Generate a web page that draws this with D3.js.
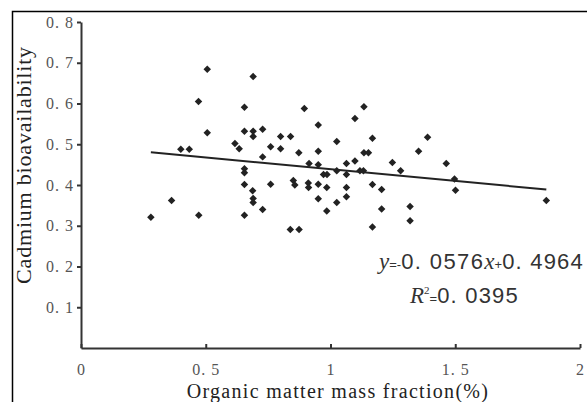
<!DOCTYPE html>
<html>
<head>
<meta charset="utf-8">
<script src="https://cdn.jsdelivr.net/npm/d3@7"></script>
<style>
  body { margin: 0; background: #fff; }
  svg { display: block; }
  .axis path, .axis line { stroke: #333; stroke-width: 2; }
</style>
</head>
<body>
<div id="chart"></div>
<script>
// organic matter mass fraction (%) and cadmium bioavailability
var organic = [0.28,0.363,0.40,0.434,0.471,0.472,0.506,0.506,0.617,0.634,
  0.655,0.655,0.655,0.655,0.655,0.655,0.69,0.69,0.69,0.688,
  0.69,0.69,0.728,0.728,0.728,0.76,0.76,0.80,0.80,0.84,
  0.839,0.873,0.874,0.851,0.857,0.895,0.914,0.911,0.912,0.951,
  0.951,0.951,0.951,0.951,0.972,0.986,0.985,0.985,1.025,1.025,
  1.025,1.064,1.064,1.064,1.064,1.098,1.098,1.134,1.118,1.132,
  1.134,1.152,1.168,1.168,1.168,1.205,1.205,1.248,1.281,1.319,
  1.319,1.353,1.389,1.464,1.497,1.501,1.865];
var cadmium = [0.321,0.362,0.488,0.488,0.605,0.326,0.684,0.528,0.502,0.489,
  0.591,0.532,0.44,0.43,0.401,0.326,0.666,0.532,0.519,0.386,
  0.367,0.357,0.537,0.469,0.34,0.494,0.402,0.519,0.489,0.519,
  0.291,0.479,0.291,0.411,0.40,0.588,0.453,0.405,0.394,0.547,
  0.483,0.45,0.402,0.366,0.426,0.426,0.394,0.336,0.507,0.435,
  0.357,0.453,0.426,0.394,0.371,0.563,0.459,0.592,0.435,0.435,
  0.479,0.479,0.515,0.401,0.297,0.389,0.341,0.455,0.435,0.347,
  0.312,0.483,0.517,0.453,0.415,0.387,0.362];

var xTicks = [0, 0.5, 1, 1.5, 2];
var yTicks = [0.1, 0.2, 0.3, 0.4, 0.5, 0.6, 0.7, 0.8];
var slope = -0.0576, intercept = 0.4964;

var width = 587, height = 402;

var svg = d3.select('#chart').append('svg')
  .attr('width', width)
  .attr('height', height);

// outer frame
svg.append('rect')
  .attr('x', 12.5).attr('y', 11.5)
  .attr('width', 640).attr('height', 440)
  .attr('fill', 'none').attr('stroke', '#000').attr('stroke-width', 1.5);

var x = d3.scaleLinear().domain([0, 2]).range([81, 580]);
var y = d3.scaleLinear().domain([0, 0.8]).range([348, 22]);

function label(d) {
  if (d === 0) return '0';
  if (d % 1 === 0) return String(d);
  return d3.format('.1f')(d).replace(/^(\d)\./, '$1. ');
}

function styleTicks(g) {
  g.selectAll('text')
    .style('font-family', '"Liberation Serif", "DejaVu Serif", serif')
    .style('font-size', '16px')
    .style('letter-spacing', '1px')
    .attr('fill', '#555');
}

svg.append('g')
  .attr('class', 'axis')
  .attr('transform', 'translate(0,348)')
  .call(d3.axisBottom(x).tickValues(xTicks).tickSize(-4).tickSizeOuter(0).tickPadding(16).tickFormat(label))
  .call(styleTicks);

svg.append('g')
  .attr('class', 'axis')
  .attr('transform', 'translate(81,0)')
  .call(d3.axisLeft(y).tickValues(yTicks).tickSize(4).tickSizeOuter(0).tickPadding(3).tickFormat(label))
  .call(styleTicks);

// trend line over the data range
var xr = d3.extent(organic);
svg.append('line')
  .attr('x1', x(xr[0])).attr('y1', y(slope * xr[0] + intercept))
  .attr('x2', x(xr[1])).attr('y2', y(slope * xr[1] + intercept))
  .attr('stroke', '#222').attr('stroke-width', 2);

var diamond = d3.symbol().type(d3.symbolSquare).size(28);
svg.append('g').selectAll('path')
  .data(organic)
  .enter().append('path')
    .attr('d', diamond)
    .attr('fill', '#222')
    .attr('transform', function(d, i) { return 'translate(' + x(d) + ',' + y(cadmium[i]) + ') rotate(45)'; });

// axis titles
svg.append('text')
  .attr('x', 338).attr('y', 398)
  .attr('text-anchor', 'middle')
  .style('font-family', '"Liberation Serif", serif')
  .style('font-size', '20px')
  .style('letter-spacing', '1.3px')
  .style('fill', '#222')
  .text('Organic matter mass fraction(%)');

svg.append('text')
  .attr('transform', 'translate(31,165) rotate(-90)')
  .attr('text-anchor', 'middle')
  .style('font-family', '"Liberation Serif", serif')
  .style('font-size', '22px')
  .style('letter-spacing', '0.8px')
  .style('fill', '#222')
  .text('Cadmium bioavailability');

// regression equation
var eq = svg.append('text')
  .attr('x', 379).attr('y', 269)
  .style('fill', '#333');
eq.append('tspan').text('y').style('font-family', '"Liberation Serif", serif').style('font-style', 'italic').style('font-size', '23px');
eq.append('tspan').text('=-').style('font-family', '"Liberation Sans", sans-serif').style('font-size', '13px');
eq.append('tspan').text('0. 0576').style('font-family', '"Liberation Sans", sans-serif').style('font-size', '22px').style('letter-spacing', '1.4px');
eq.append('tspan').text('x').style('font-family', '"Liberation Serif", serif').style('font-style', 'italic').style('font-size', '23px');
eq.append('tspan').text('+').style('font-family', '"Liberation Sans", sans-serif').style('font-size', '13px');
eq.append('tspan').text('0. 4964').style('font-family', '"Liberation Sans", sans-serif').style('font-size', '22px').style('letter-spacing', '1.2px');

var r2 = svg.append('text')
  .attr('x', 410).attr('y', 303)
  .style('fill', '#333');
r2.append('tspan').text('R').style('font-family', '"Liberation Serif", serif').style('font-style', 'italic').style('font-size', '23px');
r2.append('tspan').text('2').attr('dy', -9).style('font-family', '"Liberation Serif", serif').style('font-size', '11px');
r2.append('tspan').text('=').attr('dy', 9).style('font-family', '"Liberation Sans", sans-serif').style('font-size', '13px');
r2.append('tspan').text('0. 0395').style('font-family', '"Liberation Sans", sans-serif').style('font-size', '22px').style('letter-spacing', '1.2px');
</script>
</body>
</html>
